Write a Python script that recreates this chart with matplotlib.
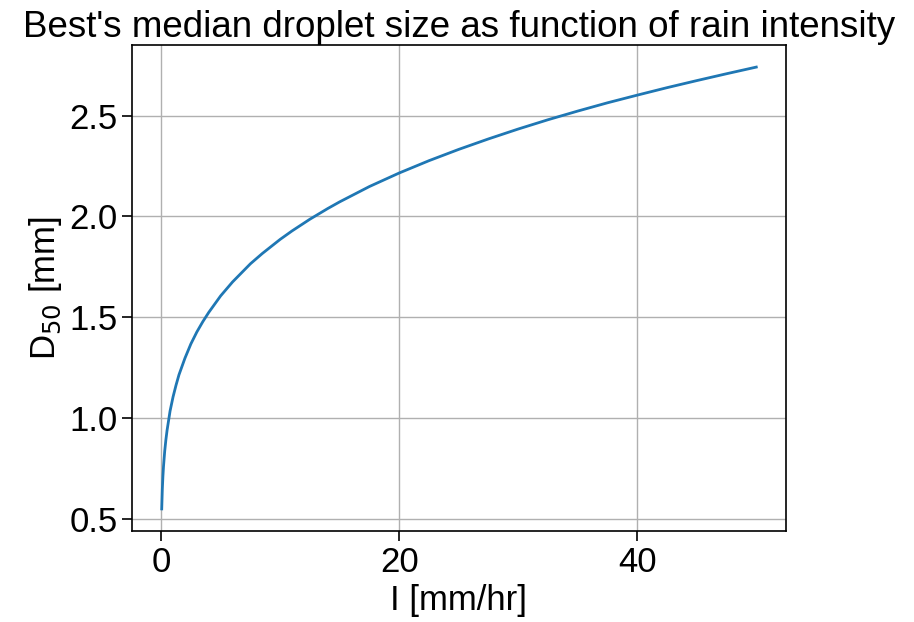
import matplotlib
matplotlib.use("Agg")
import matplotlib.pyplot as plt

# rain intensity I [mm/hr] and median droplet size D50 [mm]
intensity = [0.05, 0.1, 0.15, 0.2, 0.3, 0.4, 0.5, 0.75, 1, 1.25, 1.5, 2, 2.5,
             3, 3.5, 4, 5, 6, 7.5, 8.5, 10, 11, 12.5, 14, 15, 17.5, 20, 22.5,
             25, 27.5, 30, 32.5, 35, 37.5, 40, 42.5, 45, 47.5, 50]
d50 = [0.55, 0.648, 0.712, 0.761, 0.836, 0.893, 0.94, 1.035, 1.105, 1.163,
       1.215, 1.297, 1.368, 1.427, 1.478, 1.524, 1.606, 1.675, 1.765, 1.816,
       1.886, 1.928, 1.986, 2.039, 2.072, 2.148, 2.215, 2.276, 2.332, 2.384,
       2.433, 2.479, 2.522, 2.563, 2.601, 2.638, 2.673, 2.707, 2.74]

plt.rcParams["font.family"] = ["Liberation Sans", "DejaVu Sans"]

fig = plt.figure(figsize=(9.14, 6.22), dpi=100)
ax = fig.add_axes([132 / 914, 1 - 531 / 622, (786 - 132) / 914, (531 - 45) / 622])

ax.plot(intensity, d50, color="#1f77b4", linewidth=2)
ax.grid(True, color="#b0b0b0", linewidth=1)
ax.set_xticks([0, 20, 40])
ax.set_yticks([0.5, 1.0, 1.5, 2.0, 2.5])
ax.tick_params(labelsize=25, length=7, width=1.2)
for s in ax.spines.values():
    s.set_linewidth(1.2)

ax.set_xlabel("I [mm/hr]", fontsize=25)
ax.set_ylabel("D$_{50}$ [mm]", fontsize=25)
ax.set_title("Best's median droplet size as function of rain intensity", fontsize=26.5)

fig.savefig("out.png", dpi=100)
